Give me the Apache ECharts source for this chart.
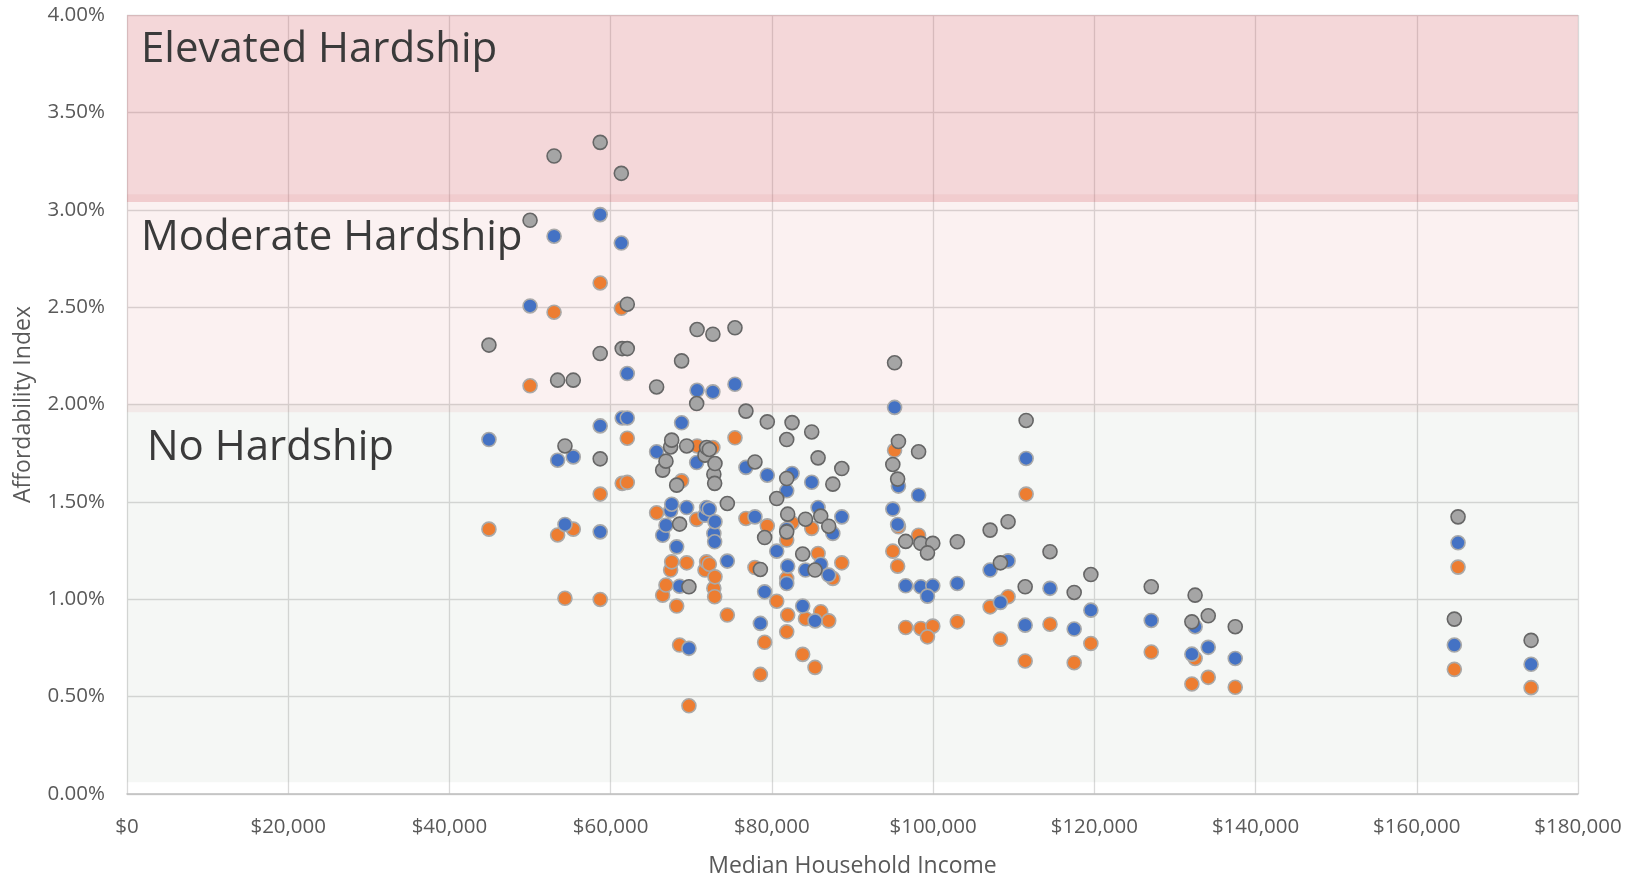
<!DOCTYPE html>
<html>
<head>
<meta charset="utf-8">
<title>Affordability Index vs Median Household Income</title>
<script src="https://cdn.jsdelivr.net/npm/echarts@6/dist/echarts.min.js"></script>
<style>
  html, body { margin: 0; padding: 0; background: #fff; }
  #chart { width: 1636px; height: 879px; }
</style>
</head>
<body>
<div id="chart"></div>
<script>
// one entry per community: median household income ($)
const incomes = [
  44900, 50000, 52980, 53420, 54330, 55360, 58700, 58700, 58700, 61320,
  62060, 61430, 62060, 65700, 66450, 66860, 67440, 67570, 68190, 68550,
  68800, 69430, 69710, 70670, 70720, 71700, 71900, 72240, 72680, 72800,
  72940, 72900, 74470, 75420, 76780, 77900, 78570, 79100, 79430, 80600,
  81840, 81840, 81840, 81960, 82500, 83820, 84170, 84940, 85350, 85730,
  86060, 87050, 87560, 88670, 95000, 95220, 95600, 95700, 96600, 98200,
  98470, 99960, 99300, 103000, 107070, 108350, 109300, 111540, 111420, 114500,
  117500, 119570, 127060, 132500, 132100, 134130, 137480, 165120, 164660, 174180
];

// affordability index (%) – orange points
const lowValues = [
  1.36, 2.096, 2.474, 1.33, 1.005, 1.36, 2.624, 1.54, 0.999, 2.494,
  1.827, 1.595, 1.60, 1.444, 1.021, 1.073, 1.15, 1.192, 0.965, 0.765,
  1.608, 1.187, 0.453, 1.41, 1.787, 1.15, 1.192, 1.18, 1.779, 1.056,
  1.115, 1.013, 0.919, 1.829, 1.415, 1.163, 0.614, 0.779, 1.377, 0.99,
  1.304, 1.107, 0.833, 0.919, 1.392, 0.717, 0.90, 1.364, 0.65, 1.235,
  0.936, 0.889, 1.107, 1.187, 1.247, 1.765, 1.17, 1.372, 0.855, 1.329,
  0.85, 0.862, 0.807, 0.884, 0.961, 0.795, 1.013, 1.54, 0.683, 0.872,
  0.674, 0.773, 0.729, 0.696, 0.565, 0.599, 0.548, 1.165, 0.64, 0.546
];

// blue points
const midValues = [
  1.82, 2.506, 2.864, 1.714, 1.384, 1.731, 2.975, 1.89, 1.346, 2.829,
  2.159, 1.931, 1.931, 1.757, 1.329, 1.38, 1.454, 1.488, 1.269, 1.067,
  1.906, 1.471, 0.748, 1.702, 2.073, 1.432, 1.471, 1.463, 2.065, 1.338,
  1.398, 1.295, 1.196, 2.104, 1.677, 1.423, 0.876, 1.038, 1.637, 1.247,
  1.557, 1.36, 1.081, 1.17, 1.646, 0.965, 1.15, 1.601, 0.889, 1.471,
  1.18, 1.124, 1.338, 1.423, 1.463, 1.985, 1.384, 1.581, 1.069, 1.534,
  1.064, 1.069, 1.016, 1.081, 1.15, 0.984, 1.197, 1.723, 0.867, 1.056,
  0.847, 0.944, 0.891, 0.859, 0.718, 0.753, 0.696, 1.29, 0.765, 0.666
];

// gray points
const highValues = [
  2.305, 2.946, 3.276, 2.125, 1.787, 2.125, 3.346, 2.262, 1.721, 3.187,
  2.515, 2.287, 2.287, 2.09, 1.663, 1.709, 1.782, 1.817, 1.586, 1.386,
  2.224, 1.787, 1.064, 2.005, 2.385, 1.74, 1.779, 1.769, 2.361, 1.642,
  1.697, 1.595, 1.492, 2.394, 1.966, 1.705, 1.153, 1.317, 1.911, 1.517,
  1.82, 1.62, 1.346, 1.437, 1.907, 1.232, 1.411, 1.859, 1.15, 1.726,
  1.427, 1.375, 1.591, 1.671, 1.692, 2.214, 1.617, 1.81, 1.297, 1.757,
  1.287, 1.287, 1.238, 1.295, 1.355, 1.187, 1.398, 1.918, 1.064, 1.244,
  1.035, 1.127, 1.064, 1.021, 0.884, 0.915, 0.859, 1.423, 0.898, 0.789
];

// hardship bands: [label, from %, to %]
const bands = [
  ['No Hardship', 0.06, 2.0],
  ['Moderate Hardship', 1.96, 3.08],
  ['Elevated Hardship', 3.04, 4.04]
];

const xTicks = { min: 0, max: 180000, interval: 20000 };
const yTicks = { min: 0, max: 4, interval: 0.5 };

const FONT = '"Open Sans", sans-serif';
const bandColors = ['rgba(155,175,155,0.10)', 'rgba(215,115,115,0.10)', 'rgba(208,88,96,0.24)'];
const bandLabelOffset = [[15, 18], [9, 18], [9, 9]];

const pair = (vals) => incomes.map((inc, i) => [inc, vals[i]]);

const chart = echarts.init(document.getElementById('chart'));

const pointSeries = (name, values, color, border) => ({
  name,
  type: 'scatter',
  data: pair(values),
  symbolSize: 14,
  itemStyle: { color, borderColor: border, borderWidth: 1.6, opacity: 1 },
  z: 2
});

chart.setOption({
  backgroundColor: '#ffffff',
  animation: false,
  grid: { left: 127, right: 58, top: 15, bottom: 85, outerBoundsMode: 'none' },
  xAxis: {
    type: 'value',
    min: xTicks.min, max: xTicks.max, interval: xTicks.interval,
    name: 'Median Household Income',
    nameLocation: 'middle',
    nameGap: 61,
    nameTextStyle: { color: '#595959', fontSize: 23, fontFamily: FONT },
    axisLine: { show: true, lineStyle: { color: '#bfbfbf', width: 1.5 } },
    axisTick: { show: false },
    axisLabel: {
      color: '#595959', fontSize: 20.5, fontFamily: FONT, margin: 23,
      formatter: (v) => '$' + v.toLocaleString('en-US')
    },
    splitLine: { show: true, lineStyle: { color: '#d9d9d9', width: 1.3 } }
  },
  yAxis: {
    type: 'value',
    min: yTicks.min, max: yTicks.max, interval: yTicks.interval,
    name: 'Affordability Index',
    nameLocation: 'middle',
    nameGap: 92,
    nameTextStyle: { color: '#595959', fontSize: 23, fontFamily: FONT },
    axisLine: { show: false },
    axisTick: { show: false },
    axisLabel: {
      color: '#595959', fontSize: 20.5, fontFamily: FONT, margin: 22,
      formatter: (v) => v.toFixed(2) + '%'
    },
    splitLine: { show: true, lineStyle: { color: '#d9d9d9', width: 1.3 } }
  },
  series: [
    pointSeries('Low', lowValues, '#ed7d31', '#a9a9a9'),
    pointSeries('Mid', midValues, '#4472c4', '#a9a9a9'),
    pointSeries('High', highValues, '#a5a5a5', '#666666'),
    {
      name: 'Bands',
      type: 'scatter',
      data: [],
      silent: true,
      clip: false,
      z: 5,
      markArea: {
        silent: true,
        data: bands.map(([label, from, to], i) => [
          {
            name: label,
            xAxis: -600,
            yAxis: to,
            itemStyle: { color: bandColors[i] },
            label: {
              show: true,
              position: 'insideTopLeft',
              offset: bandLabelOffset[i],
              color: '#3a3a3a',
              fontSize: 42,
              fontFamily: FONT
            }
          },
          { xAxis: xTicks.max, yAxis: from }
        ])
      }
    }
  ]
});

window.addEventListener('resize', () => chart.resize());
</script>
</body>
</html>
